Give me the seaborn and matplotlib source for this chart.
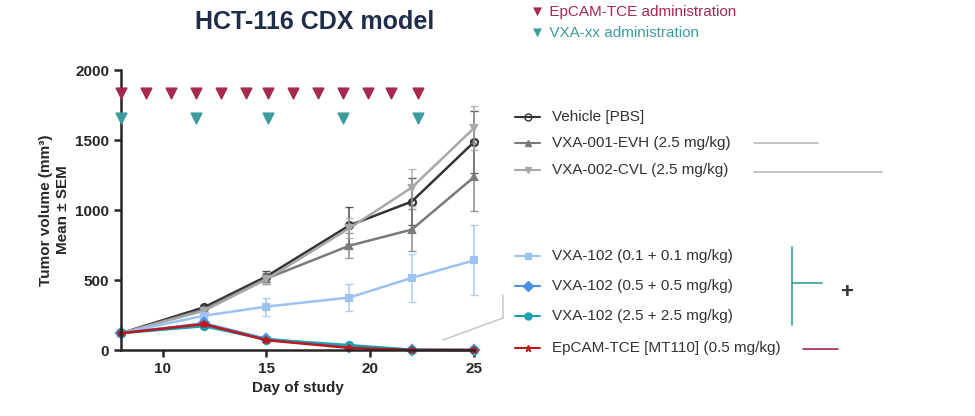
import matplotlib
matplotlib.use("Agg")
import matplotlib.pyplot as plt
import seaborn as sns
import pandas as pd
from matplotlib.lines import Line2D

days = [8, 12, 15, 19, 22, 25]

series_names = [
    "Vehicle [PBS]",
    "VXA-001-EVH (2.5 mg/kg)",
    "VXA-002-CVL (2.5 mg/kg)",
    "VXA-102 (0.1 + 0.1 mg/kg)",
    "VXA-102 (0.5 + 0.5 mg/kg)",
    "VXA-102 (2.5 + 2.5 mg/kg)",
    "EpCAM-TCE [MT110] (0.5 mg/kg)",
]
means = [
    [120, 305, 525, 890, 1060, 1485],
    [120, 290, 510, 745, 860, 1235],
    [120, 280, 505, 870, 1160, 1585],
    [120, 245, 310, 375, 515, 640],
    [120, 190, 80, 25, 2, 0],
    [120, 170, 75, 35, 2, 0],
    [120, 185, 70, 15, 0, 0],
]
sems = [
    [5, 20, 40, 130, 170, 220],
    [5, 20, 40, 90, 150, 240],
    [5, 20, 30, 70, 130, 160],
    [5, 10, 65, 95, 170, 250],
    [3, 10, 10, 5, 2, 0],
    [3, 10, 10, 8, 2, 0],
    [3, 15, 10, 5, 0, 0],
]
colors = ["#333333", "#7a7a7a", "#a8a8a8", "#9cc3f0", "#4a90e2", "#1aa0b0", "#c0161e"]
markers = ["o", "^", "v", "s", "D", "o", "*"]

epcam_days = [8, 9.2, 10.4, 11.6, 12.8, 14.0, 15.1, 16.3, 17.5, 18.7, 19.9, 21.0, 22.3]
vxa_days = [8, 11.6, 15.1, 18.7, 22.3]

sns.set_style("ticks")
plt.rcParams["font.family"] = ["Liberation Sans", "DejaVu Sans"]

fig = plt.figure(figsize=(9.75, 4.16), dpi=100)
ax = fig.add_axes([121 / 975, 66 / 416, 353 / 975, 280 / 416])

for name, m, s, c, mk in zip(series_names, means, sems, colors, markers):
    df = pd.DataFrame({"day": days, "vol": m})
    ax.errorbar(days, m, yerr=s, color=c, capsize=3, elinewidth=1.2, fmt="none", alpha=0.8, clip_on=False)
    sns.lineplot(data=df, x="day", y="vol", ax=ax, color=c, marker=mk, markersize=5,
                 linewidth=1.8, markeredgecolor=c, mfc="none" if name.startswith("Vehicle") else c,
                 markeredgewidth=1.6, clip_on=False)

ax.scatter(epcam_days, [1836] * len(epcam_days), marker="v", s=60, color="#a5284f", clip_on=False, zorder=5)
ax.scatter(vxa_days, [1657] * len(vxa_days), marker="v", s=60, color="#3a9d9b", clip_on=False, zorder=5)

ax.set_xlim(8, 25)
ax.set_ylim(0, 2000)
ax.set_xticks([10, 15, 20, 25])
ax.set_yticks([0, 500, 1000, 1500, 2000])
ax.tick_params(labelsize=11, width=1.8, length=5)
for lbl in ax.get_xticklabels() + ax.get_yticklabels():
    lbl.set_fontweight("bold")
for sp in ["left", "bottom"]:
    ax.spines[sp].set_linewidth(1.8)
sns.despine(ax=ax)
ax.set_xlabel("Day of study", fontsize=11, fontweight="bold")
ax.set_ylabel("Tumor volume (mm³)\nMean ± SEM", fontsize=11, fontweight="bold")

# legend drawn as figure rows
rows_y = [117, 143, 170, 256, 286, 316, 348]
for name, c, mk, y in zip(series_names, colors, markers, rows_y):
    yf = 1 - y / 416
    fig.add_artist(Line2D([515 / 975, 540 / 975], [yf, yf], color=c, lw=1.5, transform=fig.transFigure))
    fig.add_artist(Line2D([527.5 / 975], [yf], color=c, marker=mk, markersize=5,
                          mfc="none" if name.startswith("Vehicle") else c, transform=fig.transFigure))
    fig.text(552 / 975, yf, name, fontsize=11, color="#333333", va="center")

# connector lines
def fline(x0, y0, x1, y1, c, lw=1.2):
    fig.add_artist(Line2D([x0 / 975, x1 / 975], [1 - y0 / 416, 1 - y1 / 416], color=c, lw=lw,
                          transform=fig.transFigure))

fline(754, 143, 818, 143, "#bbbbbb")
fline(754, 172, 882, 172, "#bbbbbb")
fline(792, 247, 792, 325, "#3a9d9b")
fline(792, 283, 822, 283, "#3a9d9b")
fline(803, 349, 838, 349, "#a5284f")
fline(503, 295, 503, 318, "#cccccc")
fline(503, 318, 443, 340, "#cccccc")
fig.text(840 / 975, 1 - 293 / 416, "+", fontsize=16, fontweight="bold", color="#333333", va="center")

fig.text(195 / 975, 1 - 22 / 416, "HCT-116 CDX model", fontsize=18, fontweight="bold",
         color="#1f2d4a", va="center")
fig.text(530 / 975, 1 - 12 / 416, "▼ EpCAM-TCE administration", fontsize=11, color="#a5284f", va="center")
fig.text(530 / 975, 1 - 33 / 416, "▼ VXA-xx administration", fontsize=11, color="#3a9d9b", va="center")

fig.savefig("out.png", dpi=100)
